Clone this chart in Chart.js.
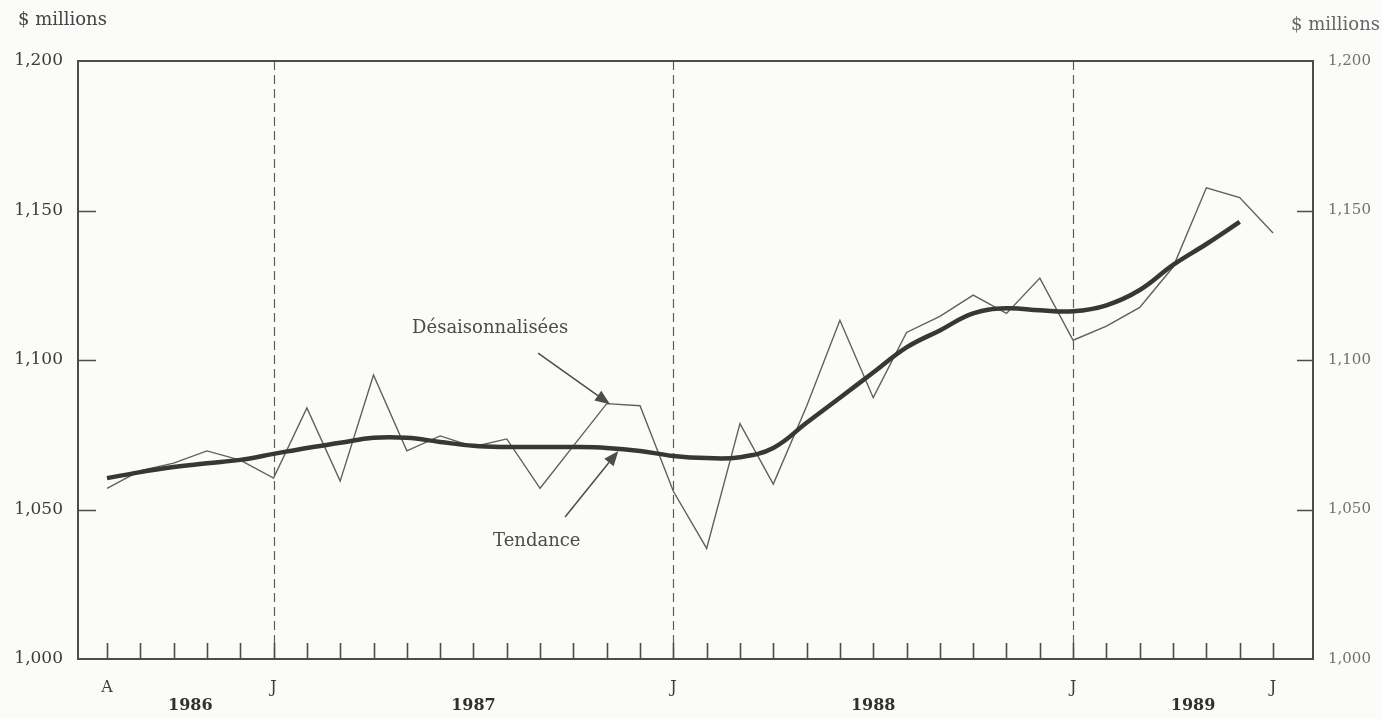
<!DOCTYPE html>
<html lang="fr">
<head>
<meta charset="utf-8">
<title>Désaisonnalisées et tendance</title>
<script src="https://cdn.jsdelivr.net/npm/chart.js@4.4.1/dist/chart.umd.min.js"></script>
<style>
  html, body { margin: 0; padding: 0; background: #fbfbf9; }
  #wrap { position: relative; width: 1382px; height: 719px; }
</style>
</head>
<body>
<div id="wrap"><canvas id="chart"></canvas></div>
<script>
// months, Aug 1986 .. Jul 1989
const months = [
  '1986-08', '1986-09', '1986-10', '1986-11', '1986-12',
  '1987-01', '1987-02', '1987-03', '1987-04', '1987-05', '1987-06',
  '1987-07', '1987-08', '1987-09', '1987-10', '1987-11', '1987-12',
  '1988-01', '1988-02', '1988-03', '1988-04', '1988-05', '1988-06',
  '1988-07', '1988-08', '1988-09', '1988-10', '1988-11', '1988-12',
  '1989-01', '1989-02', '1989-03', '1989-04', '1989-05', '1989-06', '1989-07'
];

// $ millions
const seasAdjusted = [
  1057.1, 1063.0, 1065.5, 1069.6, 1066.5,
  1060.5, 1084.0, 1059.5, 1095.0, 1069.6, 1074.6,
  1071.0, 1073.6, 1057.1, 1071.3, 1085.4, 1084.7,
  1056.1, 1037.0, 1078.7, 1058.5, 1084.5, 1113.3,
  1087.4, 1109.2, 1114.6, 1121.7, 1115.6, 1127.4,
  1106.6, 1111.3, 1117.6, 1131.1, 1157.6, 1154.3, 1142.5
];

// trend stops at Jun 1989
const trend = [
  1060.5, 1062.5, 1064.2, 1065.5, 1066.6,
  1068.6, 1070.6, 1072.3, 1074.0, 1074.0, 1072.6,
  1071.3, 1070.9, 1070.9, 1070.9, 1070.6, 1069.6,
  1067.9, 1067.2, 1067.5, 1070.6, 1079.0, 1087.4,
  1095.8, 1104.2, 1109.9, 1115.6, 1117.3, 1116.6,
  1116.3, 1118.3, 1123.4, 1131.8, 1138.8, 1146.2
];

const letterMonths = ['1986-08', '1987-01', '1988-01', '1989-01', '1989-07'];
const letterLabels = ['A', 'J', 'J', 'J', 'J'];
const dividerMonths = ['1987-01', '1988-01', '1989-01'];
const yearLabels = ['1986', '1987', '1988', '1989'];

const unitLabel = '$ millions';
const seriesNames = ['Tendance', 'Désaisonnalisées'];

// where the two captions sit, in month-index / value units
const notes = [
  { text: 'Désaisonnalisées', at: [11.5, 1110.5], from: [12.94, 1102.3], to: [15.1, 1085.2] },
  { text: 'Tendance', at: [12.9, 1039.5], from: [13.75, 1047.5], to: [15.35, 1069.6] }
];

const SERIF = '"DejaVu Serif", "Liberation Serif", serif';
const INK = '#3c4039';

const fmt = v => v.toLocaleString('en-US');
const idx = m => months.indexOf(m);

const framePlugin = {
  id: 'frame',
  beforeDatasetsDraw(chart) {
    const { ctx, chartArea: a, scales: { x } } = chart;
    ctx.save();
    ctx.strokeStyle = '#5a5d58';
    ctx.lineWidth = 1.2;
    ctx.setLineDash([9, 5]);
    dividerMonths.forEach(m => {
      const px = Math.round(x.getPixelForValue(idx(m))) + 0.5;
      ctx.beginPath();
      ctx.moveTo(px, a.top);
      ctx.lineTo(px, a.bottom);
      ctx.stroke();
    });
    ctx.restore();
  },
  afterDraw(chart) {
    const { ctx, chartArea: a, scales: { x, y } } = chart;
    ctx.save();

    // box
    ctx.strokeStyle = '#4a4d48';
    ctx.lineWidth = 2;
    ctx.strokeRect(a.left, a.top, a.right - a.left, a.bottom - a.top);

    // inward tick marks
    ctx.lineWidth = 1.6;
    ctx.beginPath();
    months.forEach((m, i) => {
      const px = Math.round(x.getPixelForValue(i)) + 0.5;
      ctx.moveTo(px, a.bottom);
      ctx.lineTo(px, a.bottom - 16);
    });
    [1050, 1100, 1150].forEach(v => {
      const py = Math.round(y.getPixelForValue(v)) + 0.5;
      ctx.moveTo(a.left, py);
      ctx.lineTo(a.left + 18, py);
      ctx.moveTo(a.right, py);
      ctx.lineTo(a.right - 16, py);
    });
    ctx.stroke();

    // year labels centred under their span
    ctx.fillStyle = '#2e322c';
    ctx.font = 'bold 16px ' + SERIF;
    ctx.textAlign = 'center';
    ctx.textBaseline = 'middle';
    yearLabels.forEach(yr => {
      const s = months.findIndex(m => m.startsWith(yr));
      const nextJan = idx((+yr + 1) + '-01');
      const e = nextJan >= 0 ? nextJan : x.max;
      ctx.fillText(yr, x.getPixelForValue((s + e) / 2), 706);
    });

    // unit titles
    ctx.font = '18px ' + SERIF;
    ctx.fillStyle = '#444';
    ctx.textAlign = 'left';
    ctx.fillText(unitLabel, 18, 20);
    ctx.fillStyle = '#666';
    ctx.textAlign = 'right';
    ctx.fillText(unitLabel, 1380, 25);

    // captions with arrows
    ctx.font = '18px ' + SERIF;
    ctx.fillStyle = '#4a4d48';
    ctx.strokeStyle = '#4a4d48';
    ctx.textAlign = 'center';
    notes.forEach(n => {
      ctx.fillText(n.text, x.getPixelForValue(n.at[0]), y.getPixelForValue(n.at[1]));
      const x0 = x.getPixelForValue(n.from[0]), y0 = y.getPixelForValue(n.from[1]);
      const x1 = x.getPixelForValue(n.to[0]), y1 = y.getPixelForValue(n.to[1]);
      const ang = Math.atan2(y1 - y0, x1 - x0);
      const head = 15, half = 6;
      const bx = x1 - head * Math.cos(ang), by = y1 - head * Math.sin(ang);
      ctx.lineWidth = 1.5;
      ctx.beginPath();
      ctx.moveTo(x0, y0);
      ctx.lineTo(bx, by);
      ctx.stroke();
      ctx.beginPath();
      ctx.moveTo(x1, y1);
      ctx.lineTo(bx + half * Math.sin(ang), by - half * Math.cos(ang));
      ctx.lineTo(bx - half * Math.sin(ang), by + half * Math.cos(ang));
      ctx.closePath();
      ctx.fill();
    });

    ctx.restore();
  }
};

new Chart(document.getElementById('chart'), {
  type: 'line',
  data: {
    datasets: [
      {
        label: seriesNames[0],
        data: trend.map((v, i) => ({ x: i, y: v })),
        borderColor: '#343932',
        borderWidth: 4.5,
        tension: 0.4,
        pointRadius: 0,
        yAxisID: 'y'
      },
      {
        label: seriesNames[1],
        data: seasAdjusted.map((v, i) => ({ x: i, y: v })),
        borderColor: '#5d625a',
        borderWidth: 1.4,
        tension: 0,
        pointRadius: 0,
        yAxisID: 'y'
      }
    ]
  },
  options: {
    responsive: true,
    maintainAspectRatio: false,
    animation: false,
    layout: { padding: { top: 61, left: 0, right: 0, bottom: 0 } },
    plugins: { legend: { display: false }, tooltip: { enabled: false } },
    scales: {
      x: {
        type: 'linear',
        min: -0.87,
        max: 36.2,
        afterFit: s => { s.height = 60; },
        grid: { display: false, drawTicks: false },
        border: { display: false },
        ticks: {
          stepSize: 1,
          autoSkip: false,
          maxRotation: 0,
          includeBounds: false,
          padding: 19,
          color: '#3a3d38',
          font: { family: SERIF, size: 16 },
          callback: v => {
            const k = letterMonths.indexOf(months[v]);
            return k >= 0 ? letterLabels[k] : '';
          }
        }
      },
      y: {
        position: 'left',
        min: 1000,
        max: 1200,
        afterFit: s => { s.width = 78; },
        grid: { display: false, drawTicks: false },
        border: { display: false },
        ticks: {
          stepSize: 50,
          padding: 15,
          color: '#3a3d38',
          font: { family: SERIF, size: 17 },
          callback: v => fmt(v)
        }
      },
      y2: {
        position: 'right',
        min: 1000,
        max: 1200,
        afterFit: s => { s.width = 69; },
        grid: { display: false, drawTicks: false },
        border: { display: false },
        ticks: {
          stepSize: 50,
          padding: 15,
          color: '#6f716d',
          font: { family: SERIF, size: 15 },
          callback: v => fmt(v)
        }
      }
    }
  },
  plugins: [framePlugin]
});
</script>
</body>
</html>
